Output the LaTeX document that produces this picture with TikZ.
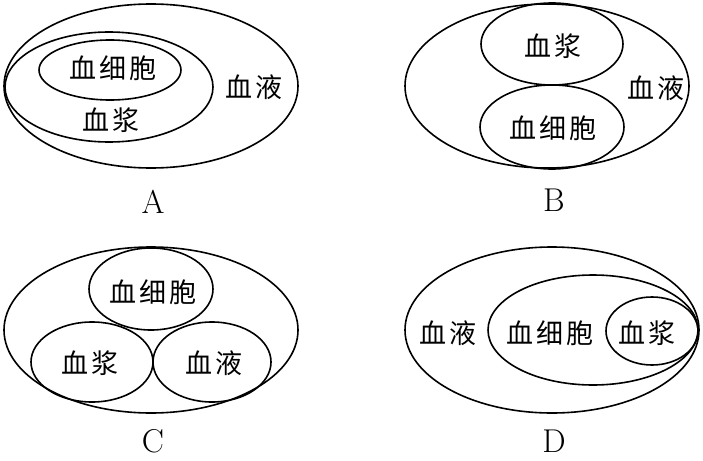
\documentclass[tikz,border=0pt]{standalone}
\usepackage{fontspec}
\newfontfamily\cjk[LetterSpace=12]{Noto Sans CJK SC}
\begin{document}
\begin{tikzpicture}[x=1pt,y=-1pt,
  ring/.style={draw=black,line width=1.6pt},
  lab/.style={font=\cjk\fontsize{27}{27}\selectfont,inner sep=0pt},
  tag/.style={font=\fontsize{33}{33}\selectfont,inner sep=0pt}]
\useasboundingbox (0,0) rectangle (703,460);
% Panel A
\draw[ring] (151,86) ellipse[x radius=147,y radius=82];
\draw[ring] (109,87) ellipse[x radius=104,y radius=55];
\draw[ring] (110,70) ellipse[x radius=71,y radius=30];
\node[lab] (a1) at (113,68) {血细胞};
\node[lab] (a2) at (111,120) {血浆};
\node[lab] (a3) at (254,87) {血液};
\node[tag] (aL) at (153,202) {A};
% Panel B
\draw[ring] (547,86) ellipse[x radius=142,y radius=82];
\draw[ring] (552,44) ellipse[x radius=71,y radius=41];
\draw[ring] (552,127) ellipse[x radius=72,y radius=42];
\node[lab] (b1) at (553,46) {血浆};
\node[lab] (b2) at (553,128) {血细胞};
\node[lab] (b3) at (656,88) {血液};
\node[tag] (bL) at (554,200) {B};
% Panel C
\draw[ring] (151,330) ellipse[x radius=147,y radius=83];
\draw[ring] (151,289) ellipse[x radius=62,y radius=41];
\draw[ring] (92,362) ellipse[x radius=61,y radius=40];
\draw[ring] (212,362) ellipse[x radius=59,y radius=40];
\node[lab] (c1) at (153,292) {血细胞};
\node[lab] (c2) at (90,363) {血浆};
\node[lab] (c3) at (214,363) {血液};
\node[tag] (cL) at (153,441) {C};
% Panel D
\draw[ring] (552,330) ellipse[x radius=147,y radius=83];
\draw[ring] (593,330) ellipse[x radius=105,y radius=55];
\draw[ring] (652,331) ellipse[x radius=46,y radius=34];
\node[lab] (d1) at (448,333) {血液};
\node[lab] (d2) at (550,333) {血细胞};
\node[lab] (d3) at (647,333) {血浆};
\node[tag] (dL) at (554,441) {D};
\end{tikzpicture}
\end{document}
